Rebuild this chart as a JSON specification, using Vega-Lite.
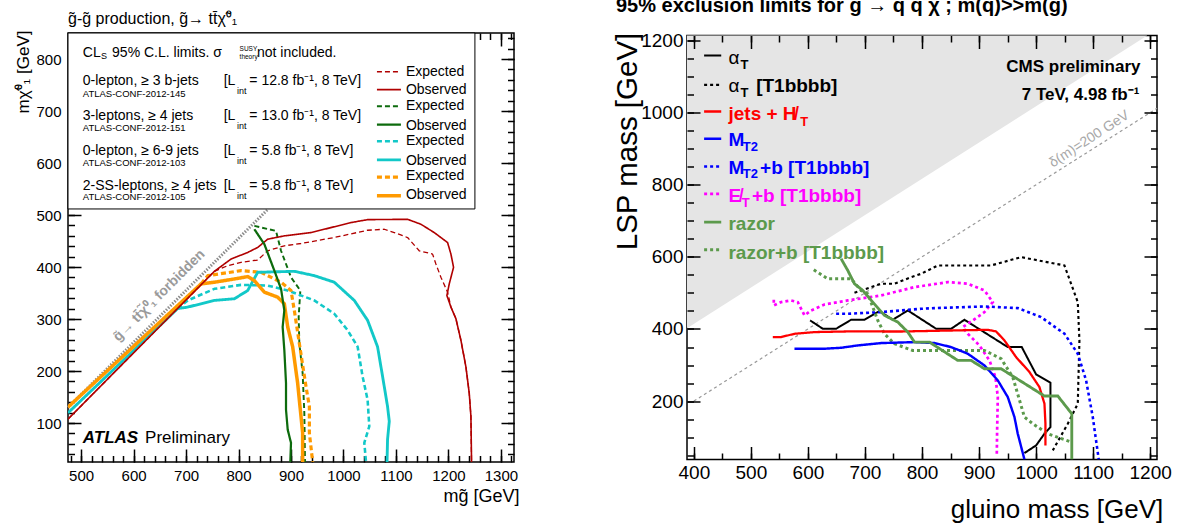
{
  "$schema": "https://vega.github.io/schema/vega-lite/v6.json",
  "background": "white",
  "padding": {"left": 13, "top": -6, "right": 5, "bottom": 0},
  "bounds": "flush",
  "spacing": 173,
  "center": true,
  "resolve": {"scale": {"color": "independent", "strokeDash": "independent", "strokeWidth": "independent"}},
  "config": {
    "font": "Liberation Sans",
    "view": {"stroke": "black", "strokeWidth": 1.5},
    "axis": {"labelFont": "Liberation Sans", "titleFont": "Liberation Sans", "labelColor": "black", "titleColor": "black", "grid": false, "domain": false, "labelOverlap": false, "labelFlush": false, "titleFontWeight": "normal"}
  },
  "hconcat": [
    {
      "width": 446,
      "height": 429,
      "resolve": {"axis": {"x": "independent", "y": "independent"}},
      "title": {"text": "g̃-g̃ production, g̃→ tt̄χ̃⁰₁", "anchor": "start", "frame": "group", "fontSize": 16, "fontWeight": "normal", "offset": 3, "font": "Liberation Sans", "color": "black"},
      "encoding": {
        "x": {"field": "x", "type": "quantitative", "scale": {"domain": [475, 1325], "nice": false, "zero": false}, "axis": null},
        "y": {"field": "y", "type": "quantitative", "scale": {"domain": [25, 850], "nice": false, "zero": false}, "axis": null}
      },
      "layer": [
        {
          "data": {"values": [{"x": 475, "y": 130}, {"x": 856, "y": 511}]},
          "mark": {"type": "line", "color": "#8c8c8c", "strokeWidth": 3, "strokeDash": [1.5, 1.5]},
          "encoding": {
            "x": {"field": "x", "type": "quantitative", "scale": {"domain": [475, 1325], "nice": false, "zero": false},
              "axis": {"orient": "bottom", "values": [480,500,520,540,560,580,600,620,640,660,680,700,720,740,760,780,800,820,840,860,880,900,920,940,960,980,1000,1020,1040,1060,1080,1100,1120,1140,1160,1180,1200,1220,1240,1260,1280,1300,1320], "labels": false, "title": null, "ticks": true, "tickColor": "black", "tickWidth": 1.5, "tickSize": 6.5, "offset": -6.5}},
            "y": {"field": "y", "type": "quantitative", "scale": {"domain": [25, 850], "nice": false, "zero": false},
              "axis": {"orient": "left", "values": [40,60,80,100,120,140,160,180,200,220,240,260,280,300,320,340,360,380,400,420,440,460,480,500,520,540,560,580,600,620,640,660,680,700,720,740,760,780,800,820,840], "labels": false, "title": null, "ticks": true, "tickColor": "black", "tickWidth": 1.5, "tickSize": 6.5, "offset": -6.5}}
          }
        },
        {
          "data": {"values": [{"t": "g̃→ tt̄χ̃⁰₁ forbidden", "x": 649, "y": 345}]},
          "mark": {"type": "text", "angle": -45, "align": "center", "baseline": "middle", "fontSize": 14, "fontWeight": "bold", "color": "#9a9a9a", "font": "Liberation Sans"},
          "encoding": {
            "text": {"field": "t"},
            "x": {"field": "x", "type": "quantitative", "scale": {"domain": [475, 1325], "nice": false, "zero": false},
              "axis": {"orient": "top", "values": [480,500,520,540,560,580,600,620,640,660,680,700,720,740,760,780,800,820,840,860,880,900,920,940,960,980,1000,1020,1040,1060,1080,1100,1120,1140,1160,1180,1200,1220,1240,1260,1280,1300,1320], "labels": false, "title": null, "ticks": true, "tickColor": "black", "tickWidth": 1.5, "tickSize": 6.5, "offset": -6.5}},
            "y": {"field": "y", "type": "quantitative", "scale": {"domain": [25, 850], "nice": false, "zero": false},
              "axis": {"orient": "right", "values": [40,60,80,100,120,140,160,180,200,220,240,260,280,300,320,340,360,380,400,420,440,460,480,500,520,540,560,580,600,620,640,660,680,700,720,740,760,780,800,820,840], "labels": false, "title": null, "ticks": true, "tickColor": "black", "tickWidth": 1.5, "tickSize": 6.5, "offset": -6.5}}
          }
        },
        {
          "data": {"values": [
            {"c": "red_exp", "i": 0, "x": 475, "y": 107.5}, {"c": "red_exp", "i": 1, "x": 754, "y": 391.7}, {"c": "red_exp", "i": 2, "x": 779.4, "y": 402.5}, {"c": "red_exp", "i": 3, "x": 804.8, "y": 408.9}, {"c": "red_exp", "i": 4, "x": 836.5, "y": 413.4}, {"c": "red_exp", "i": 5, "x": 855.6, "y": 431.2}, {"c": "red_exp", "i": 6, "x": 887.3, "y": 440.8}, {"c": "red_exp", "i": 7, "x": 919, "y": 445.2}, {"c": "red_exp", "i": 8, "x": 982.5, "y": 456.7}, {"c": "red_exp", "i": 9, "x": 1046, "y": 470.7}, {"c": "red_exp", "i": 10, "x": 1077.8, "y": 472.6}, {"c": "red_exp", "i": 11, "x": 1096.8, "y": 466.2}, {"c": "red_exp", "i": 12, "x": 1122.2, "y": 456.7}, {"c": "red_exp", "i": 13, "x": 1144.4, "y": 431.2}, {"c": "red_exp", "i": 14, "x": 1169.8, "y": 424.8}, {"c": "red_exp", "i": 15, "x": 1176.2, "y": 405.7}, {"c": "red_exp", "i": 16, "x": 1185.7, "y": 380.3}, {"c": "red_exp", "i": 17, "x": 1198.4, "y": 351.6}, {"c": "red_exp", "i": 18, "x": 1204.8, "y": 322.9}, {"c": "red_exp", "i": 19, "x": 1214.3, "y": 300.6}, {"c": "red_exp", "i": 20, "x": 1223.8, "y": 259.2}, {"c": "red_exp", "i": 21, "x": 1233.3, "y": 208.3}, {"c": "red_exp", "i": 22, "x": 1239.7, "y": 157.3}, {"c": "red_exp", "i": 23, "x": 1242.9, "y": 112.7}, {"c": "red_exp", "i": 24, "x": 1244.1, "y": 25},
            {"c": "green_exp", "i": 0, "x": 830.2, "y": 479}, {"c": "green_exp", "i": 1, "x": 871.4, "y": 469.4}, {"c": "green_exp", "i": 2, "x": 881, "y": 431.2}, {"c": "green_exp", "i": 3, "x": 900, "y": 380.3}, {"c": "green_exp", "i": 4, "x": 917.8, "y": 354.8}, {"c": "green_exp", "i": 5, "x": 914.6, "y": 303.8}, {"c": "green_exp", "i": 6, "x": 915.9, "y": 252.9}, {"c": "green_exp", "i": 7, "x": 922.2, "y": 195.5}, {"c": "green_exp", "i": 8, "x": 925.4, "y": 119.1}, {"c": "green_exp", "i": 9, "x": 926.7, "y": 25},
            {"c": "cyan_exp", "i": 0, "x": 684, "y": 320}, {"c": "cyan_exp", "i": 1, "x": 703.2, "y": 335.7}, {"c": "cyan_exp", "i": 2, "x": 754, "y": 358}, {"c": "cyan_exp", "i": 3, "x": 804.8, "y": 365.6}, {"c": "cyan_exp", "i": 4, "x": 855.6, "y": 364.3}, {"c": "cyan_exp", "i": 5, "x": 893.7, "y": 354.8}, {"c": "cyan_exp", "i": 6, "x": 944.4, "y": 335.7}, {"c": "cyan_exp", "i": 7, "x": 982.5, "y": 310.2}, {"c": "cyan_exp", "i": 8, "x": 1008, "y": 278.3}, {"c": "cyan_exp", "i": 9, "x": 1027, "y": 246.5}, {"c": "cyan_exp", "i": 10, "x": 1036.5, "y": 189.2}, {"c": "cyan_exp", "i": 11, "x": 1046, "y": 144.6}, {"c": "cyan_exp", "i": 12, "x": 1049.2, "y": 93.6}, {"c": "cyan_exp", "i": 13, "x": 1039.7, "y": 61.8}, {"c": "cyan_exp", "i": 14, "x": 1043, "y": 25},
            {"c": "orange_exp", "i": 0, "x": 728.6, "y": 367.5}, {"c": "orange_exp", "i": 1, "x": 741.3, "y": 383.4}, {"c": "orange_exp", "i": 2, "x": 804.8, "y": 393}, {"c": "orange_exp", "i": 3, "x": 842.9, "y": 389.8}, {"c": "orange_exp", "i": 4, "x": 881, "y": 370.7}, {"c": "orange_exp", "i": 5, "x": 900, "y": 354.8}, {"c": "orange_exp", "i": 6, "x": 906.3, "y": 316.6}, {"c": "orange_exp", "i": 7, "x": 915.9, "y": 252.9}, {"c": "orange_exp", "i": 8, "x": 928.6, "y": 170}, {"c": "orange_exp", "i": 9, "x": 935, "y": 131.8}, {"c": "orange_exp", "i": 10, "x": 935, "y": 80.9}, {"c": "orange_exp", "i": 11, "x": 941.3, "y": 25},
            {"c": "cyan_obs", "i": 0, "x": 475, "y": 119.5}, {"c": "cyan_obs", "i": 1, "x": 684, "y": 320}, {"c": "cyan_obs", "i": 2, "x": 703.2, "y": 322.9}, {"c": "cyan_obs", "i": 3, "x": 754, "y": 335.7}, {"c": "cyan_obs", "i": 4, "x": 792, "y": 338.9}, {"c": "cyan_obs", "i": 5, "x": 817.5, "y": 354.8}, {"c": "cyan_obs", "i": 6, "x": 836.5, "y": 389.8}, {"c": "cyan_obs", "i": 7, "x": 906.3, "y": 391.7}, {"c": "cyan_obs", "i": 8, "x": 944.4, "y": 383.4}, {"c": "cyan_obs", "i": 9, "x": 982.5, "y": 370.7}, {"c": "cyan_obs", "i": 10, "x": 1020.6, "y": 335.7}, {"c": "cyan_obs", "i": 11, "x": 1046, "y": 297.5}, {"c": "cyan_obs", "i": 12, "x": 1065, "y": 246.5}, {"c": "cyan_obs", "i": 13, "x": 1074.6, "y": 189.2}, {"c": "cyan_obs", "i": 14, "x": 1084, "y": 131.8}, {"c": "cyan_obs", "i": 15, "x": 1087.3, "y": 103.2}, {"c": "cyan_obs", "i": 16, "x": 1084, "y": 68.2}, {"c": "cyan_obs", "i": 17, "x": 1083, "y": 25},
            {"c": "orange_obs", "i": 0, "x": 475, "y": 130.5}, {"c": "orange_obs", "i": 1, "x": 728.6, "y": 367.5}, {"c": "orange_obs", "i": 2, "x": 754, "y": 370.7}, {"c": "orange_obs", "i": 3, "x": 792, "y": 377}, {"c": "orange_obs", "i": 4, "x": 817.5, "y": 381.5}, {"c": "orange_obs", "i": 5, "x": 830.2, "y": 373.9}, {"c": "orange_obs", "i": 6, "x": 849.2, "y": 351.6}, {"c": "orange_obs", "i": 7, "x": 874.6, "y": 342}, {"c": "orange_obs", "i": 8, "x": 887.3, "y": 329.3}, {"c": "orange_obs", "i": 9, "x": 893.7, "y": 284.7}, {"c": "orange_obs", "i": 10, "x": 903.2, "y": 246.5}, {"c": "orange_obs", "i": 11, "x": 912.7, "y": 176.4}, {"c": "orange_obs", "i": 12, "x": 922.2, "y": 80.9}, {"c": "orange_obs", "i": 13, "x": 922.2, "y": 25},
            {"c": "red_obs", "i": 0, "x": 475, "y": 107.5}, {"c": "red_obs", "i": 1, "x": 754, "y": 391.7}, {"c": "red_obs", "i": 2, "x": 785.7, "y": 415.3}, {"c": "red_obs", "i": 3, "x": 817.5, "y": 428}, {"c": "red_obs", "i": 4, "x": 836.5, "y": 437.6}, {"c": "red_obs", "i": 5, "x": 855.6, "y": 453.5}, {"c": "red_obs", "i": 6, "x": 887.3, "y": 459.9}, {"c": "red_obs", "i": 7, "x": 938.1, "y": 466.2}, {"c": "red_obs", "i": 8, "x": 1014.3, "y": 485.4}, {"c": "red_obs", "i": 9, "x": 1046, "y": 491.1}, {"c": "red_obs", "i": 10, "x": 1122.2, "y": 491.7}, {"c": "red_obs", "i": 11, "x": 1147.6, "y": 482.2}, {"c": "red_obs", "i": 12, "x": 1173, "y": 466.2}, {"c": "red_obs", "i": 13, "x": 1198.4, "y": 447.1}, {"c": "red_obs", "i": 14, "x": 1204.8, "y": 424.8}, {"c": "red_obs", "i": 15, "x": 1209.8, "y": 399.4}, {"c": "red_obs", "i": 16, "x": 1201.6, "y": 367.5}, {"c": "red_obs", "i": 17, "x": 1197.1, "y": 345.2}, {"c": "red_obs", "i": 18, "x": 1204.8, "y": 322.9}, {"c": "red_obs", "i": 19, "x": 1214.3, "y": 300.6}, {"c": "red_obs", "i": 20, "x": 1223.8, "y": 259.2}, {"c": "red_obs", "i": 21, "x": 1233.3, "y": 208.3}, {"c": "red_obs", "i": 22, "x": 1239.7, "y": 157.3}, {"c": "red_obs", "i": 23, "x": 1242.9, "y": 112.7}, {"c": "red_obs", "i": 24, "x": 1244.1, "y": 25},
            {"c": "green_obs", "i": 0, "x": 830.2, "y": 472.6}, {"c": "green_obs", "i": 1, "x": 849.2, "y": 443.9}, {"c": "green_obs", "i": 2, "x": 868.3, "y": 393}, {"c": "green_obs", "i": 3, "x": 881, "y": 358}, {"c": "green_obs", "i": 4, "x": 887.3, "y": 316.6}, {"c": "green_obs", "i": 5, "x": 884.1, "y": 284.7}, {"c": "green_obs", "i": 6, "x": 887.3, "y": 240.1}, {"c": "green_obs", "i": 7, "x": 890.5, "y": 176.4}, {"c": "green_obs", "i": 8, "x": 890.5, "y": 125.5}, {"c": "green_obs", "i": 9, "x": 893.7, "y": 87.3}, {"c": "green_obs", "i": 10, "x": 900, "y": 61.8}, {"c": "green_obs", "i": 11, "x": 898.7, "y": 25}
          ]},
          "mark": {"type": "line", "clip": true, "strokeJoin": "round"},
          "encoding": {
            "x": {"field": "x", "type": "quantitative", "scale": {"domain": [475, 1325], "nice": false, "zero": false},
              "axis": {"orient": "bottom", "values": [500,600,700,800,900,1000,1100,1200,1300], "format": "d", "labelFontSize": 15, "ticks": true, "tickColor": "black", "tickWidth": 1.5, "tickSize": 13, "offset": -13, "labelPadding": 6, "title": "mg̃ [GeV]", "titleFontSize": 18, "titleX": 451, "titleY": 52, "titleAlign": "right", "titleAnchor": "end", "titleBaseline": "alphabetic"}},
            "y": {"field": "y", "type": "quantitative", "scale": {"domain": [25, 850], "nice": false, "zero": false},
              "axis": {"orient": "left", "values": [100,200,300,400,500,600,700,800], "format": "d", "labelFontSize": 15, "ticks": true, "tickColor": "black", "tickWidth": 1.5, "tickSize": 13, "offset": -13, "labelPadding": 7, "title": "mχ̃⁰₁ [GeV]", "titleFontSize": 17, "titleAngle": 270, "titleX": -53, "titleY": -3, "titleAlign": "right", "titleBaseline": "alphabetic"}},
            "detail": {"field": "c"},
            "order": {"field": "i"},
            "color": {"field": "c", "type": "nominal", "legend": null, "scale": {"domain": ["red_exp","red_obs","green_exp","green_obs","cyan_exp","cyan_obs","orange_exp","orange_obs"], "range": ["#b00000","#b00000","#0d6b0d","#0d6b0d","#12c8c8","#12c8c8","#ff9a00","#ff9a00"]}},
            "strokeDash": {"field": "c", "type": "nominal", "legend": null, "scale": {"domain": ["red_exp","red_obs","green_exp","green_obs","cyan_exp","cyan_obs","orange_exp","orange_obs"], "range": [[5,3],[1,0],[5,3],[1,0],[5,3],[1,0],[5,3],[1,0]]}},
            "strokeWidth": {"field": "c", "type": "nominal", "legend": null, "scale": {"domain": ["red_exp","red_obs","green_exp","green_obs","cyan_exp","cyan_obs","orange_exp","orange_obs"], "range": [1.3,3.5,1.3,3.5,1.3,3.5,1.3,3.5]}}
          }
        },
        {
          "data": {"values": [{"x": 475, "x2": 1250.5, "y": 511.6, "y2": 850}]},
          "mark": {"type": "rect", "fill": "white", "stroke": "black", "strokeWidth": 1},
          "encoding": {
            "x": {"field": "x", "type": "quantitative", "scale": {"domain": [475, 1325], "nice": false, "zero": false},
              "axis": {"orient": "top", "values": [500,600,700,800,900,1000,1100,1200,1300], "labels": false, "title": null, "ticks": true, "tickColor": "black", "tickWidth": 1.5, "tickSize": 13, "offset": -13}},
            "x2": {"field": "x2"},
            "y": {"field": "y", "type": "quantitative", "scale": {"domain": [25, 850], "nice": false, "zero": false},
              "axis": {"orient": "right", "values": [100,200,300,400,500,600,700,800], "labels": false, "title": null, "ticks": true, "tickColor": "black", "tickWidth": 1.5, "tickSize": 13, "offset": -13}},
            "y2": {"field": "y2"}
          }
        },
        {
          "data": {"values": [
            {"c": "red_exp", "x": 1063.8, "x2": 1109.5, "y": 775.5}, {"c": "red_obs", "x": 1063.8, "x2": 1109.5, "y": 741.1},
            {"c": "green_exp", "x": 1063.8, "x2": 1109.5, "y": 709.2}, {"c": "green_obs", "x": 1063.8, "x2": 1109.5, "y": 673.6},
            {"c": "cyan_exp", "x": 1063.8, "x2": 1109.5, "y": 641.7}, {"c": "cyan_obs", "x": 1063.8, "x2": 1109.5, "y": 605.9},
            {"c": "orange_exp", "x": 1063.8, "x2": 1109.5, "y": 572.8}, {"c": "orange_obs", "x": 1063.8, "x2": 1109.5, "y": 537.1}
          ]},
          "mark": {"type": "rule"},
          "encoding": {
            "x2": {"field": "x2"},
            "color": {"field": "c", "type": "nominal", "legend": null, "scale": {"domain": ["red_exp","red_obs","green_exp","green_obs","cyan_exp","cyan_obs","orange_exp","orange_obs"], "range": ["#b00000","#b00000","#0d6b0d","#0d6b0d","#12c8c8","#12c8c8","#ff9a00","#ff9a00"]}},
            "strokeDash": {"field": "c", "type": "nominal", "legend": null, "scale": {"domain": ["red_exp","red_obs","green_exp","green_obs","cyan_exp","cyan_obs","orange_exp","orange_obs"], "range": [[5,3],[1,0],[5,3],[1,0],[5,3],[1,0],[5,3],[1,0]]}},
            "strokeWidth": {"field": "c", "type": "nominal", "legend": null, "scale": {"domain": ["red_exp","red_obs","green_exp","green_obs","cyan_exp","cyan_obs","orange_exp","orange_obs"], "range": [1.3,3.5,1.3,3.5,1.3,3.5,1.3,3.5]}}
          }
        },
        {
          "data": {"values": [
            {"t": "CL", "x": 503.2, "y": 804.2}, {"t": "95% C.L. limits. σ", "x": 559, "y": 804.2}, {"t": "not included.", "x": 835.2, "y": 804.2},
            {"t": "0-lepton, ≥ 3 b-jets", "x": 503.2, "y": 750.1}, {"t": "3-leptons, ≥ 4 jets", "x": 503.2, "y": 683.2}, {"t": "0-lepton, ≥ 6-9 jets", "x": 503.2, "y": 616.3}, {"t": "2-SS-leptons, ≥ 4 jets", "x": 503.2, "y": 548},
            {"t": "[L", "x": 771.8, "y": 750.1}, {"t": "[L", "x": 771.8, "y": 683.2}, {"t": "[L", "x": 771.8, "y": 616.3}, {"t": "[L", "x": 771.8, "y": 548},
            {"t": "= 12.8 fb⁻¹, 8 TeV]", "x": 820.6, "y": 750.1}, {"t": "= 13.0 fb⁻¹, 8 TeV]", "x": 820.6, "y": 683.2}, {"t": "= 5.8 fb⁻¹, 8 TeV]", "x": 820.6, "y": 616.3}, {"t": "= 5.8 fb⁻¹, 8 TeV]", "x": 820.6, "y": 548},
            {"t": "Expected", "x": 1119, "y": 767.9}, {"t": "Observed", "x": 1119, "y": 732.1}, {"t": "Expected", "x": 1119, "y": 701.5}, {"t": "Observed", "x": 1119, "y": 664.1},
            {"t": "Expected", "x": 1119, "y": 634}, {"t": "Observed", "x": 1119, "y": 597.1}, {"t": "Expected", "x": 1119, "y": 566.5}, {"t": "Observed", "x": 1119, "y": 530.2}
          ]},
          "mark": {"type": "text", "align": "left", "baseline": "alphabetic", "fontSize": 14, "color": "black", "font": "Liberation Sans"},
          "encoding": {"text": {"field": "t"}}
        },
        {
          "data": {"values": [
            {"t": "ATLAS-CONF-2012-145", "x": 503.2, "y": 727.7}, {"t": "ATLAS-CONF-2012-151", "x": 503.2, "y": 662.1}, {"t": "ATLAS-CONF-2012-103", "x": 503.2, "y": 593.9}, {"t": "ATLAS-CONF-2012-105", "x": 503.2, "y": 528.9}
          ]},
          "mark": {"type": "text", "align": "left", "baseline": "alphabetic", "fontSize": 9.5, "color": "black", "font": "Liberation Sans"},
          "encoding": {"text": {"field": "t"}}
        },
        {
          "data": {"values": [
            {"t": "S", "x": 538, "y": 800},
            {"t": "int", "x": 797, "y": 733}, {"t": "int", "x": 797, "y": 666}, {"t": "int", "x": 797, "y": 599}, {"t": "int", "x": 797, "y": 531}
          ]},
          "mark": {"type": "text", "align": "left", "baseline": "alphabetic", "fontSize": 9, "color": "black", "font": "Liberation Sans"},
          "encoding": {"text": {"field": "t"}}
        },
        {
          "data": {"values": [{"t": "SUSY", "x": 802, "y": 815.5}, {"t": "theory", "x": 802, "y": 800}]},
          "mark": {"type": "text", "align": "left", "baseline": "alphabetic", "fontSize": 6.5, "color": "black", "font": "Liberation Sans"},
          "encoding": {"text": {"field": "t"}}
        },
        {
          "data": {"values": [{"t": "ATLAS", "x": 503.2, "y": 61.8}]},
          "mark": {"type": "text", "align": "left", "baseline": "alphabetic", "fontSize": 17, "fontWeight": "bold", "fontStyle": "italic", "color": "black", "font": "Liberation Sans"},
          "encoding": {"text": {"field": "t"}}
        },
        {
          "data": {"values": [{"t": "Preliminary", "x": 621.9, "y": 61.8}]},
          "mark": {"type": "text", "align": "left", "baseline": "alphabetic", "fontSize": 17, "color": "black", "font": "Liberation Sans"},
          "encoding": {"text": {"field": "t"}}
        }
      ]
    },
    {
      "width": 470,
      "height": 424,
      "resolve": {"axis": {"x": "independent", "y": "independent"}},
      "title": {"text": "95% exclusion limits for g → q q χ ; m(q)>>m(g)", "anchor": "start", "frame": "group", "fontSize": 20, "fontWeight": "bold", "dx": -71, "offset": 16, "font": "Liberation Sans", "color": "black"},
      "encoding": {
        "x": {"field": "x", "type": "quantitative", "scale": {"domain": [388, 1212], "nice": false, "zero": false}, "axis": null},
        "y": {"field": "y", "type": "quantitative", "scale": {"domain": [38, 1214], "nice": false, "zero": false}, "axis": null}
      },
      "layer": [
        {
          "data": {"values": [{"x": 388, "y": 402}, {"x": 1195, "y": 1214}]},
          "mark": {"type": "area", "color": "#e5e5e5", "opacity": 1},
          "encoding": {
            "x": {"field": "x", "type": "quantitative", "scale": {"domain": [388, 1212], "nice": false, "zero": false},
              "axis": {"orient": "top", "values": [400,500,600,700,800,900,1000,1100,1200], "labels": false, "title": null, "ticks": true, "tickColor": "black", "tickWidth": 1.5, "tickSize": 13, "offset": -13, "zindex": 1}},
            "y": {"field": "y", "type": "quantitative", "scale": {"domain": [38, 1214], "nice": false, "zero": false},
              "axis": {"orient": "right", "values": [200,400,600,800,1000,1200], "labels": false, "title": null, "ticks": true, "tickColor": "black", "tickWidth": 1.5, "tickSize": 13, "offset": -13, "zindex": 1}},
            "y2": {"datum": 1214}
          }
        },
        {
          "data": {"values": [{"x": 400, "y": 200}, {"x": 1212, "y": 1012}]},
          "mark": {"type": "line", "color": "#999999", "strokeWidth": 1.2, "strokeDash": [3, 3]},
          "encoding": {
            "x": {"field": "x", "type": "quantitative", "scale": {"domain": [388, 1212], "nice": false, "zero": false},
              "axis": {"orient": "bottom", "values": [400,450,500,550,600,650,700,750,800,850,900,950,1000,1050,1100,1150,1200], "labels": false, "title": null, "ticks": true, "tickColor": "black", "tickWidth": 1.5, "tickSize": 6.5, "offset": -6.5, "zindex": 1}},
            "y": {"field": "y", "type": "quantitative", "scale": {"domain": [38, 1214], "nice": false, "zero": false},
              "axis": {"orient": "left", "values": [50,100,150,200,250,300,350,400,450,500,550,600,650,700,750,800,850,900,950,1000,1050,1100,1150,1200], "labels": false, "title": null, "ticks": true, "tickColor": "black", "tickWidth": 1.5, "tickSize": 6.5, "offset": -6.5, "zindex": 1}}
          }
        },
        {
          "data": {"values": [{"t": "δ(m)=200 GeV", "x": 1100, "y": 910}]},
          "mark": {"type": "text", "angle": -33, "align": "center", "baseline": "bottom", "fontSize": 14, "color": "#a8a8a8", "font": "Liberation Sans"},
          "encoding": {
            "text": {"field": "t"},
            "x": {"field": "x", "type": "quantitative", "scale": {"domain": [388, 1212], "nice": false, "zero": false},
              "axis": {"orient": "top", "values": [400,450,500,550,600,650,700,750,800,850,900,950,1000,1050,1100,1150,1200], "labels": false, "title": null, "ticks": true, "tickColor": "black", "tickWidth": 1.5, "tickSize": 6.5, "offset": -6.5, "zindex": 1}},
            "y": {"field": "y", "type": "quantitative", "scale": {"domain": [38, 1214], "nice": false, "zero": false},
              "axis": {"orient": "right", "values": [50,100,150,200,250,300,350,400,450,500,550,600,650,700,750,800,850,900,950,1000,1050,1100,1150,1200], "labels": false, "title": null, "ticks": true, "tickColor": "black", "tickWidth": 1.5, "tickSize": 6.5, "offset": -6.5, "zindex": 1}}
          }
        },
        {
          "data": {"values": [
            {"s": "aT", "i": 0, "x": 603.9, "y": 423.7}, {"s": "aT", "i": 1, "x": 626.1, "y": 400.6}, {"s": "aT", "i": 2, "x": 649.5, "y": 400.6}, {"s": "aT", "i": 3, "x": 675.7, "y": 425.6}, {"s": "aT", "i": 4, "x": 699.1, "y": 425.6}, {"s": "aT", "i": 5, "x": 725.4, "y": 449.6}, {"s": "aT", "i": 6, "x": 748.8, "y": 425.6}, {"s": "aT", "i": 7, "x": 775.1, "y": 451.4}, {"s": "aT", "i": 8, "x": 824.8, "y": 400.6}, {"s": "aT", "i": 9, "x": 851.1, "y": 400.6}, {"s": "aT", "i": 10, "x": 874.4, "y": 425.5}, {"s": "aT", "i": 11, "x": 950.4, "y": 349.8}, {"s": "aT", "i": 12, "x": 974.9, "y": 349.8}, {"s": "aT", "i": 13, "x": 1000.1, "y": 274}, {"s": "aT", "i": 14, "x": 1025.2, "y": 250.9}, {"s": "aT", "i": 15, "x": 1025.2, "y": 127.9}, {"s": "aT", "i": 16, "x": 1014.7, "y": 109.5}, {"s": "aT", "i": 17, "x": 1000.1, "y": 77.1}, {"s": "aT", "i": 18, "x": 979.6, "y": 55.9},
            {"s": "aTb", "i": 0, "x": 681.6, "y": 500.4}, {"s": "aTb", "i": 1, "x": 710.8, "y": 516.1}, {"s": "aTb", "i": 2, "x": 728.3, "y": 525.4}, {"s": "aTb", "i": 3, "x": 751.7, "y": 525.4}, {"s": "aTb", "i": 4, "x": 780.9, "y": 543.8}, {"s": "aTb", "i": 5, "x": 798.5, "y": 553}, {"s": "aTb", "i": 6, "x": 827.7, "y": 576.2}, {"s": "aTb", "i": 7, "x": 921.2, "y": 576.2}, {"s": "aTb", "i": 8, "x": 973.8, "y": 599.3}, {"s": "aTb", "i": 9, "x": 1049.7, "y": 576.2}, {"s": "aTb", "i": 10, "x": 1073.1, "y": 474.5}, {"s": "aTb", "i": 11, "x": 1076, "y": 368.2}, {"s": "aTb", "i": 12, "x": 1073.1, "y": 192.7}, {"s": "aTb", "i": 13, "x": 1055.6, "y": 137.2}, {"s": "aTb", "i": 14, "x": 1029.3, "y": 63.3},
            {"s": "met", "i": 0, "x": 540.2, "y": 481}, {"s": "met", "i": 1, "x": 540.2, "y": 465.3}, {"s": "met", "i": 2, "x": 553, "y": 474.5}, {"s": "met", "i": 3, "x": 570.5, "y": 479.2}, {"s": "met", "i": 4, "x": 582.2, "y": 474.5}, {"s": "met", "i": 5, "x": 594, "y": 437.6}, {"s": "met", "i": 6, "x": 605.6, "y": 451.4}, {"s": "met", "i": 7, "x": 629, "y": 468}, {"s": "met", "i": 8, "x": 669.9, "y": 479.2}, {"s": "met", "i": 9, "x": 728.3, "y": 493}, {"s": "met", "i": 10, "x": 786.8, "y": 516.1}, {"s": "met", "i": 11, "x": 845.2, "y": 530}, {"s": "met", "i": 12, "x": 880.3, "y": 525.4}, {"s": "met", "i": 13, "x": 909.5, "y": 506.9}, {"s": "met", "i": 14, "x": 924.1, "y": 474.5}, {"s": "met", "i": 15, "x": 909.5, "y": 446.8}, {"s": "met", "i": 16, "x": 889, "y": 423.7}, {"s": "met", "i": 17, "x": 871.5, "y": 405.2}, {"s": "met", "i": 18, "x": 880.3, "y": 386.7}, {"s": "met", "i": 19, "x": 900.7, "y": 354.4}, {"s": "met", "i": 20, "x": 918.3, "y": 312.8}, {"s": "met", "i": 21, "x": 928.8, "y": 266.6}, {"s": "met", "i": 22, "x": 932.9, "y": 211.1}, {"s": "met", "i": 23, "x": 931.7, "y": 118.7}, {"s": "met", "i": 24, "x": 931.1, "y": 50},
            {"s": "mt2b", "i": 0, "x": 649.4, "y": 442.2}, {"s": "mt2b", "i": 1, "x": 669.9, "y": 442.2}, {"s": "mt2b", "i": 2, "x": 728.3, "y": 446.8}, {"s": "mt2b", "i": 3, "x": 798.5, "y": 456}, {"s": "mt2b", "i": 4, "x": 821.8, "y": 457.9}, {"s": "mt2b", "i": 5, "x": 909.5, "y": 462.5}, {"s": "mt2b", "i": 6, "x": 968, "y": 457.9}, {"s": "mt2b", "i": 7, "x": 1008.8, "y": 432.9}, {"s": "mt2b", "i": 8, "x": 1049.8, "y": 386.7}, {"s": "mt2b", "i": 9, "x": 1073.1, "y": 331.3}, {"s": "mt2b", "i": 10, "x": 1087.7, "y": 257.4}, {"s": "mt2b", "i": 11, "x": 1099.4, "y": 155.7}, {"s": "mt2b", "i": 12, "x": 1109.9, "y": 38},
            {"s": "razorb", "i": 0, "x": 610.3, "y": 564.2}, {"s": "razorb", "i": 1, "x": 634.8, "y": 539.2}, {"s": "razorb", "i": 2, "x": 675.7, "y": 539.2}, {"s": "razorb", "i": 3, "x": 693.3, "y": 506.9}, {"s": "razorb", "i": 4, "x": 705, "y": 497.6}, {"s": "razorb", "i": 5, "x": 722.5, "y": 423.7}, {"s": "razorb", "i": 6, "x": 734.2, "y": 386.7}, {"s": "razorb", "i": 7, "x": 751.7, "y": 359}, {"s": "razorb", "i": 8, "x": 783.4, "y": 340.6}, {"s": "razorb", "i": 9, "x": 909.5, "y": 340.6}, {"s": "razorb", "i": 10, "x": 938.7, "y": 317.4}, {"s": "razorb", "i": 11, "x": 959.1, "y": 266.6}, {"s": "razorb", "i": 12, "x": 979.6, "y": 155.7}, {"s": "razorb", "i": 13, "x": 994.2, "y": 137.2}, {"s": "razorb", "i": 14, "x": 1020.5, "y": 109.5}, {"s": "razorb", "i": 15, "x": 1061.4, "y": 86.4},
            {"s": "mt2", "i": 0, "x": 576.4, "y": 345.2}, {"s": "mt2", "i": 1, "x": 629, "y": 345.2}, {"s": "mt2", "i": 2, "x": 658.2, "y": 347.9}, {"s": "mt2", "i": 3, "x": 687.4, "y": 354.4}, {"s": "mt2", "i": 4, "x": 728.3, "y": 360.9}, {"s": "mt2", "i": 5, "x": 786.8, "y": 363.6}, {"s": "mt2", "i": 6, "x": 821.8, "y": 360.9}, {"s": "mt2", "i": 7, "x": 851.1, "y": 349.8}, {"s": "mt2", "i": 8, "x": 880.3, "y": 331.3}, {"s": "mt2", "i": 9, "x": 909.5, "y": 298.9}, {"s": "mt2", "i": 10, "x": 932.9, "y": 257.4}, {"s": "mt2", "i": 11, "x": 950.4, "y": 211.1}, {"s": "mt2", "i": 12, "x": 962.1, "y": 155.7}, {"s": "mt2", "i": 13, "x": 967.9, "y": 109.5}, {"s": "mt2", "i": 14, "x": 979.6, "y": 38},
            {"s": "jets", "i": 0, "x": 538.4, "y": 377.5}, {"s": "jets", "i": 1, "x": 553, "y": 377.5}, {"s": "jets", "i": 2, "x": 576.4, "y": 386.7}, {"s": "jets", "i": 3, "x": 611.5, "y": 391.4}, {"s": "jets", "i": 4, "x": 669.9, "y": 393.2}, {"s": "jets", "i": 5, "x": 763.4, "y": 393}, {"s": "jets", "i": 6, "x": 915.3, "y": 397.8}, {"s": "jets", "i": 7, "x": 929.9, "y": 393.2}, {"s": "jets", "i": 8, "x": 944.6, "y": 368.2}, {"s": "jets", "i": 9, "x": 965, "y": 322}, {"s": "jets", "i": 10, "x": 988.4, "y": 280.5}, {"s": "jets", "i": 11, "x": 1005.9, "y": 238.9}, {"s": "jets", "i": 12, "x": 1014.7, "y": 192.7}, {"s": "jets", "i": 13, "x": 1016.4, "y": 137.2}, {"s": "jets", "i": 14, "x": 1016.4, "y": 77.1},
            {"s": "razor", "i": 0, "x": 658.2, "y": 594.7}, {"s": "razor", "i": 1, "x": 669.9, "y": 562.3}, {"s": "razor", "i": 2, "x": 681.6, "y": 525.4}, {"s": "razor", "i": 3, "x": 696.2, "y": 506.9}, {"s": "razor", "i": 4, "x": 713.7, "y": 474.5}, {"s": "razor", "i": 5, "x": 734.2, "y": 437.6}, {"s": "razor", "i": 6, "x": 757.6, "y": 419.1}, {"s": "razor", "i": 7, "x": 775.1, "y": 391.4}, {"s": "razor", "i": 8, "x": 786.8, "y": 363.6}, {"s": "razor", "i": 9, "x": 813.1, "y": 363.6}, {"s": "razor", "i": 10, "x": 862.7, "y": 312.8}, {"s": "razor", "i": 11, "x": 886.1, "y": 312.8}, {"s": "razor", "i": 12, "x": 909.5, "y": 289.7}, {"s": "razor", "i": 13, "x": 938.7, "y": 289.7}, {"s": "razor", "i": 14, "x": 1014.7, "y": 214}, {"s": "razor", "i": 15, "x": 1038.1, "y": 214}, {"s": "razor", "i": 16, "x": 1062.6, "y": 164.9}, {"s": "razor", "i": 17, "x": 1062.6, "y": 38}
          ]},
          "mark": {"type": "line", "clip": true},
          "encoding": {
            "x": {"field": "x", "type": "quantitative", "scale": {"domain": [388, 1212], "nice": false, "zero": false},
              "axis": {"orient": "bottom", "values": [400,500,600,700,800,900,1000,1100,1200], "format": "d", "labelFontSize": 19, "ticks": true, "tickColor": "black", "tickWidth": 1.5, "tickSize": 13, "offset": -13, "labelPadding": 4, "zindex": 1, "title": "gluino mass [GeV]", "titleFontSize": 26, "titleX": 475.7, "titleY": 70.7, "titleAlign": "right", "titleAnchor": "end", "titleBaseline": "alphabetic"}},
            "y": {"field": "y", "type": "quantitative", "scale": {"domain": [38, 1214], "nice": false, "zero": false},
              "axis": {"orient": "left", "values": [200,400,600,800,1000,1200], "format": "d", "labelFontSize": 19, "ticks": true, "tickColor": "black", "tickWidth": 1.5, "tickSize": 13, "offset": -13, "labelPadding": 4, "zindex": 1, "title": "LSP mass [GeV]", "titleFontSize": 29.5, "titleAngle": 270, "titleX": -64, "titleY": -3.3, "titleAlign": "right", "titleBaseline": "alphabetic"}},
            "detail": {"field": "s"},
            "order": {"field": "i"},
            "color": {"field": "s", "type": "nominal", "legend": null, "scale": {"domain": ["aT","aTb","jets","mt2","mt2b","met","razor","razorb"], "range": ["#000000","#000000","#ff0000","#0000ff","#0000ff","#ff00ff","#5c9a4c","#5c9a4c"]}},
            "strokeDash": {"field": "s", "type": "nominal", "legend": null, "scale": {"domain": ["aT","aTb","jets","mt2","mt2b","met","razor","razorb"], "range": [[1,0],[3,3],[1,0],[1,0],[3,3],[3,3],[1,0],[3,3]]}},
            "strokeWidth": {"field": "s", "type": "nominal", "legend": null, "scale": {"domain": ["aT","aTb","jets","mt2","mt2b","met","razor","razorb"], "range": [2,3,2.5,2.5,3,3,2,3]}}
          }
        },
        {
          "data": {"values": [
            {"s": "aT", "x": 418, "x2": 448, "y": 1158.4}, {"s": "aTb", "x": 418, "x2": 448, "y": 1077.2}, {"s": "jets", "x": 418, "x2": 448, "y": 1003.2}, {"s": "mt2", "x": 418, "x2": 448, "y": 927.5},
            {"s": "mt2b", "x": 418, "x2": 448, "y": 850.7}, {"s": "met", "x": 418, "x2": 448, "y": 775}, {"s": "razor", "x": 418, "x2": 448, "y": 696.3}, {"s": "razorb", "x": 418, "x2": 448, "y": 619.7}
          ]},
          "mark": {"type": "rule"},
          "encoding": {
            "x2": {"field": "x2"},
            "color": {"field": "s", "type": "nominal", "legend": null, "scale": {"domain": ["aT","aTb","jets","mt2","mt2b","met","razor","razorb"], "range": ["#000000","#000000","#ff0000","#0000ff","#0000ff","#ff00ff","#5c9a4c","#5c9a4c"]}},
            "strokeDash": {"field": "s", "type": "nominal", "legend": null, "scale": {"domain": ["aT","aTb","jets","mt2","mt2b","met","razor","razorb"], "range": [[1,0],[3,3],[1,0],[1,0],[3,3],[3,3],[1,0],[3,3]]}},
            "strokeWidth": {"field": "s", "type": "nominal", "legend": null, "scale": {"domain": ["aT","aTb","jets","mt2","mt2b","met","razor","razorb"], "range": [2,2,2,2,2,2,2,2]}}
          }
        },
        {
          "data": {"values": [
            {"t": "[T1bbbb]", "s": "aTb", "x": 509.2, "y": 1056.7}, {"t": "jets + H̸", "s": "jets", "x": 460.7, "y": 981},
            {"t": "M", "s": "mt2", "x": 460.7, "y": 908.9}, {"t": "M", "s": "mt2b", "x": 460.7, "y": 830.4}, {"t": "+b [T1bbbb]", "s": "mt2b", "x": 516.2, "y": 830.4},
            {"t": "E̸", "s": "met", "x": 460.7, "y": 751.7}, {"t": "+b [T1bbbb]", "s": "met", "x": 502, "y": 751.7},
            {"t": "razor", "s": "razor", "x": 460.7, "y": 673.2}, {"t": "razor+b [T1bbbb]", "s": "razorb", "x": 460.7, "y": 594.8}
          ]},
          "mark": {"type": "text", "align": "left", "baseline": "alphabetic", "fontSize": 19, "fontWeight": "bold", "font": "Liberation Sans"},
          "encoding": {"text": {"field": "t"}, "color": {"field": "s", "type": "nominal", "legend": null, "scale": {"domain": ["aT","aTb","jets","mt2","mt2b","met","razor","razorb"], "range": ["#000000","#000000","#ff0000","#0000ff","#0000ff","#ff00ff","#5c9a4c","#5c9a4c"]}}}
        },
        {
          "data": {"values": [{"t": "α", "s": "aT", "x": 460.7, "y": 1135.4}, {"t": "α", "s": "aTb", "x": 460.7, "y": 1056.7}]},
          "mark": {"type": "text", "align": "left", "baseline": "alphabetic", "fontSize": 19, "font": "Liberation Sans"},
          "encoding": {"text": {"field": "t"}, "color": {"field": "s", "type": "nominal", "legend": null, "scale": {"domain": ["aT","aTb","jets","mt2","mt2b","met","razor","razorb"], "range": ["#000000","#000000","#ff0000","#0000ff","#0000ff","#ff00ff","#5c9a4c","#5c9a4c"]}}}
        },
        {
          "data": {"values": [
            {"t": "T", "s": "aT", "x": 482, "y": 1121.5}, {"t": "T", "s": "aTb", "x": 482, "y": 1042.8}, {"t": "T", "s": "jets", "x": 586.4, "y": 964.3},
            {"t": "T2", "s": "mt2", "x": 485.9, "y": 895}, {"t": "T2", "s": "mt2b", "x": 485.9, "y": 818.2}, {"t": "T", "s": "met", "x": 484, "y": 737.8}
          ]},
          "mark": {"type": "text", "align": "left", "baseline": "alphabetic", "fontSize": 13, "fontWeight": "bold", "font": "Liberation Sans"},
          "encoding": {"text": {"field": "t"}, "color": {"field": "s", "type": "nominal", "legend": null, "scale": {"domain": ["aT","aTb","jets","mt2","mt2b","met","razor","razorb"], "range": ["#000000","#000000","#ff0000","#0000ff","#0000ff","#ff00ff","#5c9a4c","#5c9a4c"]}}}
        },
        {
          "data": {"values": [{"t": "CMS preliminary", "x": 1183, "y": 1112}, {"t": "7 TeV, 4.98 fb⁻¹", "x": 1181, "y": 1036.4}]},
          "mark": {"type": "text", "align": "right", "baseline": "alphabetic", "fontSize": 17, "fontWeight": "bold", "color": "black", "font": "Liberation Sans"},
          "encoding": {"text": {"field": "t"}}
        }
      ]
    }
  ]
}
